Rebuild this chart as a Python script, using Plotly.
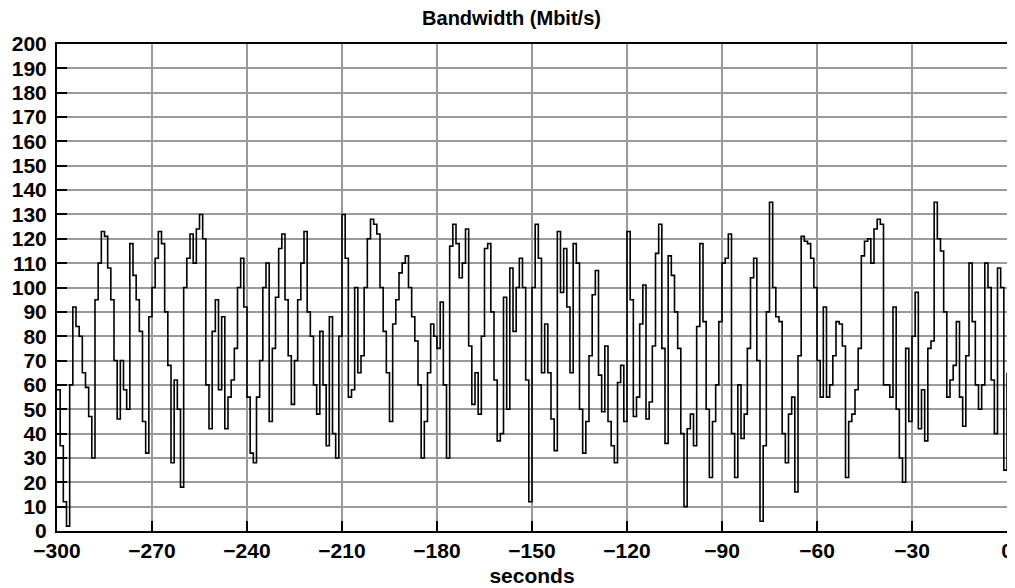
import plotly.graph_objects as go

seconds = list(range(-300, 1))
bandwidth = (
    [58, 35, 12, 2, 60, 92, 84, 80, 65, 59]
    + [47, 30, 95, 110, 123, 121, 108, 95, 70, 46]
    + [70, 58, 50, 118, 105, 95, 82, 45, 32, 88]
    + [100, 112, 123, 118, 90, 68, 28, 62, 50, 18]
    + [100, 112, 122, 110, 124, 130, 120, 60, 42, 82]
    + [95, 58, 88, 42, 55, 62, 75, 100, 112, 92]
    + [55, 32, 28, 55, 70, 100, 110, 45, 75, 96]
    + [116, 122, 95, 72, 52, 70, 95, 110, 123, 90]
    + [80, 60, 48, 82, 60, 35, 88, 40, 30, 80]
    + [130, 112, 55, 58, 100, 65, 72, 100, 120, 128]
    + [126, 122, 100, 82, 65, 45, 85, 95, 106, 110]
    + [113, 100, 88, 78, 60, 30, 45, 65, 85, 80]
    + [75, 94, 60, 30, 117, 126, 118, 104, 110, 124]
    + [76, 52, 65, 48, 80, 116, 118, 90, 62, 37]
    + [40, 96, 50, 108, 82, 100, 112, 100, 62, 12]
    + [100, 126, 112, 65, 85, 65, 46, 33, 123, 98]
    + [116, 92, 65, 118, 110, 50, 32, 45, 72, 97]
    + [107, 64, 49, 76, 45, 35, 28, 61, 68, 45]
    + [123, 95, 47, 55, 85, 101, 46, 53, 76, 114]
    + [126, 75, 36, 113, 105, 90, 75, 40, 10, 42]
    + [48, 35, 84, 118, 86, 50, 22, 45, 60, 86]
    + [110, 112, 122, 40, 22, 60, 38, 48, 75, 104]
    + [112, 70, 4, 35, 90, 135, 100, 88, 86, 40]
    + [28, 48, 55, 16, 72, 121, 119, 118, 112, 100]
    + [70, 55, 92, 55, 60, 72, 86, 85, 76, 22]
    + [45, 48, 58, 75, 113, 119, 120, 110, 124, 128]
    + [126, 60, 60, 55, 92, 50, 30, 20, 75, 45]
    + [80, 98, 42, 58, 37, 75, 78, 135, 120, 115]
    + [90, 55, 62, 68, 86, 55, 43, 72, 110, 86]
    + [60, 50, 60, 110, 100, 62, 40, 108, 100, 25]
    + [65]
)

title_text = "Bandwidth (Mbit/s)"
x_title = "seconds"

FONT = "Liberation Sans"

fig = go.Figure()
fig.add_trace(go.Scatter(
    x=seconds, y=bandwidth, mode="lines", line_shape="hv",
    line=dict(color="black", width=1.6), showlegend=False,
))

# the page body adds an 8px offset; size the figure to compensate
fig.update_layout(
    width=1007, height=580,
    margin=dict(l=49, r=8, t=36, b=57, autoexpand=False),
    paper_bgcolor="white", plot_bgcolor="white",
    title=dict(text=title_text, x=0.5, xanchor="center", y=0.982, yanchor="middle",
               font=dict(family=FONT, size=20, color="black", weight="bold")),
)
fig.update_xaxes(
    range=[-300, 0], tick0=-300, dtick=30, automargin=False,
    showgrid=True, gridcolor="#9a9a9a", gridwidth=1.5,
    showline=True, mirror=True, linecolor="black", linewidth=2,
    ticks="inside", ticklen=10, tickwidth=2, tickcolor="black",
    tickfont=dict(family=FONT, size=21, color="black", weight="bold"),
    title=dict(text=x_title, font=dict(family=FONT, size=21, color="black", weight="bold"), standoff=7),
    zeroline=False,
)
fig.update_yaxes(
    range=[0, 200], tick0=0, dtick=10, automargin=False,
    showgrid=True, gridcolor="#9a9a9a", gridwidth=1.5,
    showline=True, mirror=True, linecolor="black", linewidth=2,
    ticks="inside", ticklen=10, tickwidth=2, tickcolor="black",
    tickfont=dict(family=FONT, size=21, color="black", weight="bold"),
    ticklabelstandoff=4,
    zeroline=False,
)

fig.write_html("out.html")
